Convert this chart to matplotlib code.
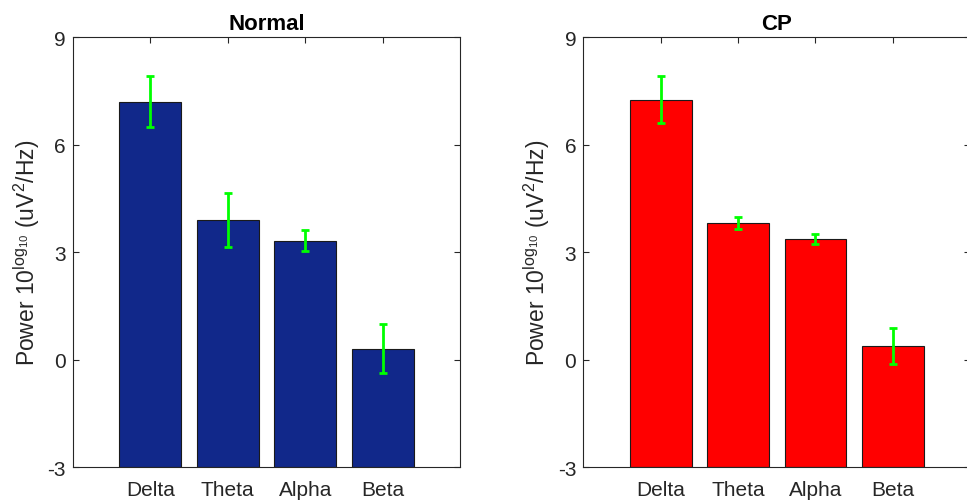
import matplotlib
matplotlib.use("Agg")
import matplotlib.pyplot as plt
import numpy as np

plt.rcParams['font.family'] = ['Liberation Sans', 'DejaVu Sans']
plt.rcParams['mathtext.fontset'] = 'custom'
plt.rcParams['mathtext.rm'] = 'Liberation Sans'
plt.rcParams['mathtext.it'] = 'Liberation Sans'

bands = ["Delta", "Theta", "Alpha", "Beta"]

normal_mean = [7.19, 3.90, 3.32, 0.30]
normal_err = [0.71, 0.76, 0.29, 0.68]

cp_mean = [7.25, 3.81, 3.36, 0.38]
cp_err = [0.66, 0.17, 0.13, 0.50]

groups = ["Normal", "CP"]
bar_colors = ["#11288A", "#FF0000"]
err_color = "#00FF00"
yticks = [-3, 0, 3, 6, 9]

dark = "#262626"
y_min, y_max = -3, 9

fig = plt.figure(figsize=(9.67, 5.02), dpi=100)
ax_l = fig.add_axes([0.0755, 0.0677, 0.4002, 0.8566])
ax_r = fig.add_axes([0.6032, 0.0677, 0.4002, 0.8566])

for ax, title, means, errs, color in zip(
        [ax_l, ax_r], groups, [normal_mean, cp_mean], [normal_err, cp_err], bar_colors):
    x = np.arange(1, len(bands) + 1)
    means = np.asarray(means)
    ax.set_axisbelow(True)
    # bars rise from the bottom of the value axis
    ax.bar(x, means - y_min, bottom=y_min, width=0.8, color=color,
           edgecolor="#1a1a1a", linewidth=0.8, zorder=2)
    ax.errorbar(x, means, yerr=errs, fmt="none", ecolor=err_color,
                elinewidth=2.0, capsize=3.2, capthick=2.0, zorder=3)
    ax.set_xlim(0, 5)
    ax.set_ylim(y_min, y_max)
    ax.set_xticks(x)
    ax.set_xticklabels(bands)
    ax.set_yticks(yticks)
    ax.set_yticklabels([str(t) for t in yticks])
    ax.tick_params(direction="in", top=True, right=True, length=4, width=0.8,
                   color=dark, labelcolor=dark, labelsize=15)
    ax.tick_params(axis="x", pad=9)
    ax.tick_params(axis="y", pad=5)
    for s in ax.spines.values():
        s.set_color(dark)
        s.set_linewidth(0.8)
    ax.set_title(title, fontsize=16, fontweight="bold", color="black", pad=6)
    ax.set_ylabel(r"Power 10$^{\mathrm{log_{10}}}$ (uV$^{\mathrm{2}}$/Hz)",
                  fontsize=16.5, color=dark, labelpad=4)

fig.savefig("out.png", dpi=100)
